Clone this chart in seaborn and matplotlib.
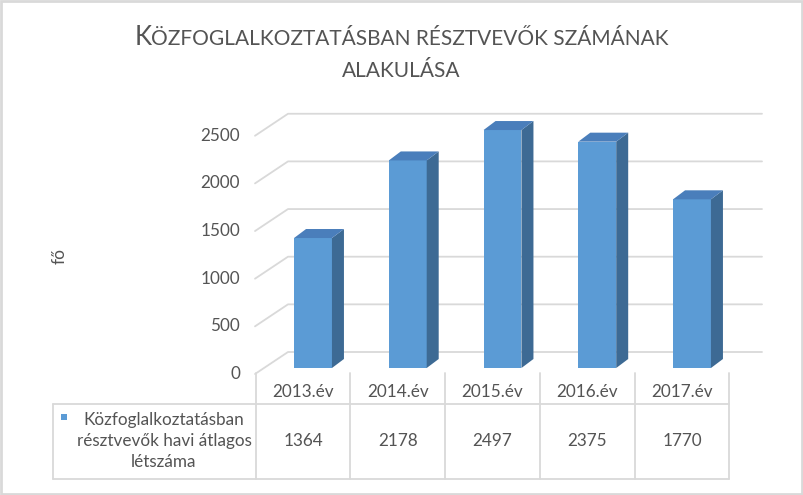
import matplotlib
matplotlib.use("Agg")
import matplotlib.pyplot as plt
import matplotlib.transforms as mtransforms
import seaborn as sns
import pandas as pd
from matplotlib.patches import Polygon, Rectangle
from matplotlib.lines import Line2D

# --- adatok ---
years = ["2013.év", "2014.év", "2015.év", "2016.év", "2017.év"]
values = [1364, 2178, 2497, 2375, 1770]
y_ticks = [0, 500, 1000, 1500, 2000, 2500]
series_label = "Közfoglalkoztatásban\nrésztvevők havi átlagos\nlétszáma"
title_first = "K"
title_rest = "ÖZFOGLALKOZTATÁSBAN RÉSZTVEVŐK SZÁMÁNAK"
title_line2 = "ALAKULÁSA"
y_label = "fő"

# --- stílus ---
sns.set_style("white")
plt.rcParams["font.family"] = ["Lato", "DejaVu Sans"]
TXT = "#545454"
GRID = "#d9d9d9"
FRONT = "#5b9bd5"
TOP = "#4a7ebb"
SIDE = "#3d6a94"
FS = 12.3

W, H = 804, 495
fig = plt.figure(figsize=(W / 100, H / 100), dpi=100)

# rajzterület (képpontokban mért elrendezés)
PX_X = 94.75          # px / kategória
PX_Y = 0.0953         # px / fő
BAR_X0 = 313          # első oszlop közepe
BASE_Y = 368          # oszlopok alja
ax = fig.add_axes([(BAR_X0 - 0.5 * PX_X) / W, (H - BASE_Y) / H,
                   5 * PX_X / W, 2600 * PX_Y / H])

df = pd.DataFrame({"ev": years, "fo": values})
sns.barplot(data=df, x="ev", y="fo", color=FRONT, saturation=1, width=0.4,
            ax=ax, zorder=3, linewidth=0)
ax.set_xlim(-0.5, 4.5)
ax.set_ylim(0, 2600)
ax.axis("off")

# 3D hatás: oldal- és tetőlap
bdx, bdy = 12 / PX_X, 9 / PX_Y
for p in ax.patches[:]:
    x, w, h = p.get_x(), p.get_width(), p.get_height()
    side = [(x + w, 0), (x + w, h), (x + w + bdx, h + bdy), (x + w + bdx, bdy)]
    top = [(x, h), (x + w, h), (x + w + bdx, h + bdy), (x + bdx, h + bdy)]
    ax.add_patch(Polygon(side, closed=True, color=SIDE, zorder=3, clip_on=False, lw=0))
    ax.add_patch(Polygon(top, closed=True, color=TOP, zorder=3, clip_on=False, lw=0))

# rácsvonalak: padló elől -> hátsó fal
fx, f_off = (255 - BAR_X0) / PX_X, -(374 - BASE_Y) / PX_Y
bx, b_off = (288 - BAR_X0) / PX_X, (BASE_Y - 352) / PX_Y
ex = (762 - BAR_X0) / PX_X
for v in y_ticks:
    ax.plot([fx, bx, ex], [v + f_off, v + b_off, v + b_off], color=GRID,
            lw=1.3, zorder=1, clip_on=False)
    ax.text((240 - BAR_X0) / PX_X, v + f_off, str(v), ha="right", va="center",
            fontsize=FS, color=TXT, clip_on=False)

# adattábla
tr = mtransforms.blended_transform_factory(ax.transData, fig.transFigure)
def fy(ypix):
    return (H - ypix) / H

t0 = -0.5 - 10 / PX_X
leg_x = (53 - BAR_X0) / PX_X
for yy in (404, 479):
    fig.add_artist(Line2D([leg_x, t0 + 5], [fy(yy), fy(yy)], transform=tr, color=GRID, lw=1.3))
fig.add_artist(Line2D([leg_x, leg_x], [fy(404), fy(479)], transform=tr, color=GRID, lw=1.3))
for i in range(6):
    fig.add_artist(Line2D([t0 + i, t0 + i], [fy(373), fy(479)], transform=tr, color=GRID, lw=1.3))
for i, (yr, v) in enumerate(zip(years, values)):
    fig.text(t0 + i + 0.5, fy(392), yr, transform=tr, ha="center", va="center",
             fontsize=FS, color=TXT)
    fig.text(t0 + i + 0.5, fy(441), str(v), transform=tr, ha="center", va="center",
             fontsize=FS, color=TXT)

fig.add_artist(Rectangle((61 / W, fy(420)), 6 / W, 6 / H, transform=fig.transFigure,
                         color=FRONT, lw=0))
fig.text(164 / W, fy(441), series_label, ha="center", va="center", fontsize=FS,
         color=TXT, multialignment="center", linespacing=1.35)

# tengelycím
fig.text(60 / W, fy(256), y_label, rotation=90, ha="center", va="center",
         fontsize=12.5, color=TXT)

# cím (kiskapitális hatás)
tk = fig.text(0, fy(45), title_first, fontsize=18.5, color=TXT, va="baseline")
tr_ = fig.text(0, fy(45), title_rest, fontsize=15, color=TXT, va="baseline")
fig.canvas.draw()
rend = fig.canvas.get_renderer()
wk = tk.get_window_extent(rend).width
wr = tr_.get_window_extent(rend).width
start = 401.5 - (wk + wr) / 2
tk.set_x(start / W)
tr_.set_x((start + wk) / W)
fig.text(401.5 / W, fy(77), title_line2, fontsize=15, color=TXT, ha="center",
         va="baseline")

# keret
fig.add_artist(Rectangle((0.001, 0.002), 0.997, 0.995, transform=fig.transFigure,
                         fill=False, edgecolor=GRID, lw=2))

fig.savefig("out.png", dpi=100)
